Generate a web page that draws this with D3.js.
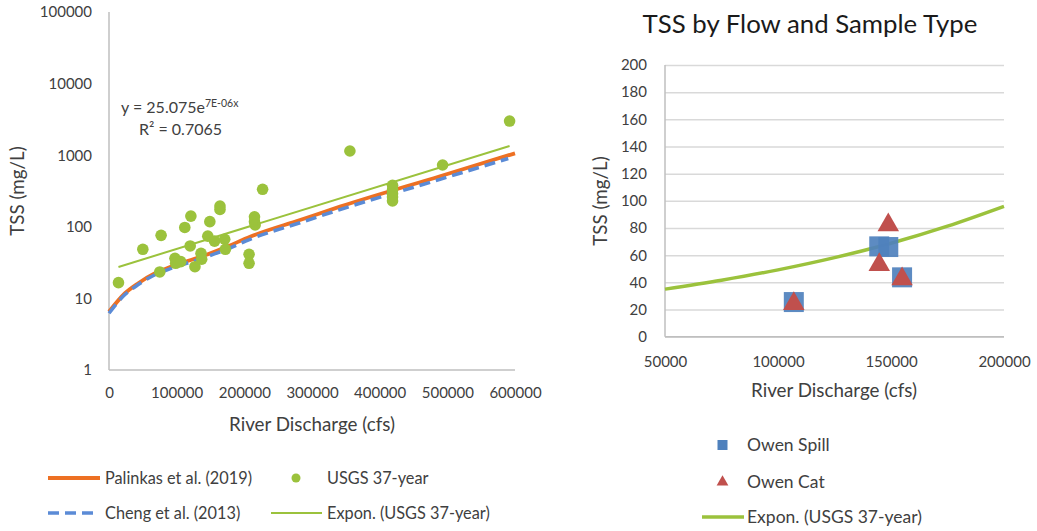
<!DOCTYPE html>
<html><head><meta charset="utf-8">
<script src="https://cdn.jsdelivr.net/npm/d3@7"></script>
<style>
body{margin:0;background:#fff;}
text{font-family:Lato,"Open Sans",sans-serif;fill:#404040;}
</style></head>
<body>
<svg id="c" width="1037" height="531"></svg>
<script>
// ---------- Left chart data ----------
const usgsX = [14000,50000,77000,75000,97500,98500,106000,112000,121000,120000,127000,136000,137000,146000,149000,156000,164000,164000,171000,172000,207000,207000,215000,215000,216000,227000,356000,493000,419000,419000,419000,419000,419000,592000];
const usgsY = [16.6,48.5,76,23.4,36.3,30.9,32.6,98,141,54,27.7,42.6,35.2,74,118,63,195,175,67,48.5,41.3,30.9,138,118,106,334,1145,730,380,330,290,260,230,3000];
const palinkasX = [0,23600,43300,68000,92700,117200,141900,175000,208400,282300,341400,489200,600000];
const palinkasY = [6.5,11.8,16.3,22.4,28,33.5,40,53,72.7,124.5,191,509,1062];
const chengX = [0,23600,43300,68000,92700,117200,141900,175000,208400,282300,341400,489200,590000];
const chengY = [6.2,11.3,15.6,21.4,26.4,31.5,37.5,49,67,114,174,460,900];
const leftTrendX = [14000,592000];
const leftTrendY = [27.5,1345];
const leftYTicks = [1,10,100,1000,10000,100000];
const leftXTicks = [0,100000,200000,300000,400000,500000,600000];

// ---------- Right chart data ----------
const spillX = [107000,144800,148800,154900];
const spillY = [25.5,66.5,66,43.7];
const catX = [107000,148800,144800,154900];
const catY = [25,83,53.7,43.2];
const rightTrendX = [50000,75000,100000,125000,150000,175000,200000];
const rightTrendY = [35,41.6,49.2,58.2,68.8,81.4,96];
const rightYTicks = [0,20,40,60,80,100,120,140,160,180,200];
const rightXTicks = [50000,100000,150000,200000];

const svg = d3.select("#c");
const GREEN="#9bc23c", ORANGE="#ED7023", BLUE="#5B8BD6", AXIS="#bfbfbf";

// ===== Left chart =====
const L = svg.append("g");
const lx = d3.scaleLinear().domain([0,600000]).range([109,515]);
const ly = d3.scaleLog().domain([1,100000]).range([370,12]);

const lyAxis = L.append("g").attr("transform","translate(109,0)")
  .call(d3.axisLeft(ly).tickValues(leftYTicks).tickFormat(d3.format("d")).tickSize(0).tickPadding(17));
lyAxis.select(".domain").remove();
const lxAxis = L.append("g").attr("transform","translate(0,370)")
  .call(d3.axisBottom(lx).tickValues(leftXTicks).tickFormat(d3.format("d")).tickSize(0).tickPadding(17));
lxAxis.select(".domain").remove();
[lyAxis,lxAxis].forEach(a=>a.selectAll("text").style("font-size","15px").style("fill","#404040").style("font-family","Lato"));

L.append("line").attr("x1",109).attr("x2",109).attr("y1",12).attr("y2",370).attr("stroke",AXIS).attr("stroke-width",1.5);
L.append("line").attr("x1",109).attr("x2",515).attr("y1",370).attr("y2",370).attr("stroke",AXIS).attr("stroke-width",1.5);

L.append("text").attr("x",312).attr("y",431).attr("text-anchor","middle").style("font-size","18.8px").text("River Discharge (cfs)");
L.append("text").attr("transform","translate(24,191) rotate(-90)").attr("text-anchor","middle").style("font-size","18.8px").text("TSS (mg/L)");

const lineL = (xs,ys)=>d3.line().curve(d3.curveMonotoneX).x((d,i)=>lx(xs[i])).y((d,i)=>ly(ys[i]))(xs);
L.append("path").attr("d",lineL(palinkasX,palinkasY)).attr("fill","none").attr("stroke",ORANGE).attr("stroke-width",3.8);
L.append("path").attr("d",lineL(chengX,chengY)).attr("fill","none").attr("stroke",BLUE).attr("stroke-width",3.5).attr("stroke-dasharray","11,6");

L.selectAll("circle.u").data(usgsX).enter().append("circle")
  .attr("cx",(d,i)=>lx(d)).attr("cy",(d,i)=>ly(usgsY[i])).attr("r",5.8).attr("fill",GREEN);

L.append("path").attr("d",d3.line().x((d,i)=>lx(leftTrendX[i])).y((d,i)=>ly(leftTrendY[i]))(leftTrendX))
  .attr("fill","none").attr("stroke",GREEN).attr("stroke-width",2);

const eq = L.append("text").attr("x",121).attr("y",113).style("font-size","16px");
eq.append("tspan").text("y = 25.075e");
eq.append("tspan").attr("dy",-6).style("font-size","10.5px").text("7E-06x");
const r2 = L.append("text").attr("x",139).attr("y",135).style("font-size","16px");
r2.append("tspan").text("R² = 0.7065");

// Left legend
const LL = svg.append("g").style("font-size","16.3px");
LL.append("line").attr("x1",48).attr("x2",100).attr("y1",478).attr("y2",478).attr("stroke",ORANGE).attr("stroke-width",3.8);
LL.append("text").attr("x",105).attr("y",484).text("Palinkas et al. (2019)");
LL.append("circle").attr("cx",296).attr("cy",478).attr("r",4.5).attr("fill",GREEN);
LL.append("text").attr("x",327).attr("y",484).text("USGS 37-year");
LL.append("line").attr("x1",48).attr("x2",97).attr("y1",513).attr("y2",513).attr("stroke",BLUE).attr("stroke-width",3.5).attr("stroke-dasharray","11,6");
LL.append("text").attr("x",105).attr("y",519).text("Cheng et al. (2013)");
LL.append("line").attr("x1",271).attr("x2",322).attr("y1",513).attr("y2",513).attr("stroke",GREEN).attr("stroke-width",2);
LL.append("text").attr("x",327).attr("y",519).text("Expon. (USGS 37-year)");

// ===== Right chart =====
const R = svg.append("g");
const rx = d3.scaleLinear().domain([50000,200000]).range([665,1004]);
const ry = d3.scaleLinear().domain([0,200]).range([336.7,65]);

const ryAxis = R.append("g").attr("transform","translate(665,0)")
  .call(d3.axisLeft(ry).tickValues(rightYTicks).tickSize(-339).tickPadding(18));
ryAxis.select(".domain").remove();
ryAxis.selectAll("line").attr("stroke","#d9d9d9").attr("stroke-width",1.5);
const rxAxis = R.append("g").attr("transform","translate(0,336.7)")
  .call(d3.axisBottom(rx).tickValues(rightXTicks).tickFormat(d3.format("d")).tickSize(0).tickPadding(20));
rxAxis.select(".domain").remove();
[ryAxis,rxAxis].forEach(a=>a.selectAll("text").style("font-size","15px").style("fill","#404040").style("font-family","Lato"));
R.append("line").attr("x1",665).attr("x2",665).attr("y1",65).attr("y2",336.7).attr("stroke",AXIS).attr("stroke-width",1.5);
R.append("line").attr("x1",665).attr("x2",1004).attr("y1",336.7).attr("y2",336.7).attr("stroke",AXIS).attr("stroke-width",1.5);

R.append("text").attr("x",810).attr("y",33).attr("text-anchor","middle").style("font-size","25.8px").style("fill","#1a1a1a").text("TSS by Flow and Sample Type");
R.append("text").attr("x",834).attr("y",397).attr("text-anchor","middle").style("font-size","18.8px").text("River Discharge (cfs)");
R.append("text").attr("transform","translate(607,201) rotate(-90)").attr("text-anchor","middle").style("font-size","18.8px").text("TSS (mg/L)");

R.append("path").attr("d",d3.line().curve(d3.curveMonotoneX).x((d,i)=>rx(rightTrendX[i])).y((d,i)=>ry(rightTrendY[i]))(rightTrendX))
  .attr("fill","none").attr("stroke",GREEN).attr("stroke-width",3.5);

const SQ=20;
R.selectAll("rect.s").data(spillX).enter().append("rect")
  .attr("x",(d,i)=>rx(d)-SQ/2).attr("y",(d,i)=>ry(spillY[i])-SQ/2).attr("width",SQ).attr("height",SQ).attr("fill","#4F81BD").attr("opacity",0.92);
const tri = d3.symbol().type(d3.symbolTriangle).size(200);
R.selectAll("path.t").data(catX).enter().append("path")
  .attr("d",tri).attr("transform",(d,i)=>`translate(${rx(d)},${ry(catY[i])+1})`).attr("fill","#C0504D");

// Right legend
const RL = svg.append("g").style("font-size","17.5px");
RL.append("rect").attr("x",717.5).attr("y",440).attr("width",10).attr("height",10).attr("fill","#4F81BD");
RL.append("text").attr("x",747).attr("y",451).text("Owen Spill");
RL.append("path").attr("d",d3.symbol().type(d3.symbolTriangle).size(60)).attr("transform","translate(722.5,482)").attr("fill","#C0504D");
RL.append("text").attr("x",747).attr("y",488).text("Owen Cat");
RL.append("line").attr("x1",702).attr("x2",744).attr("y1",517).attr("y2",517).attr("stroke",GREEN).attr("stroke-width",3.5);
RL.append("text").attr("x",747).attr("y",523).text("Expon. (USGS 37-year)");
</script>
</body></html>
